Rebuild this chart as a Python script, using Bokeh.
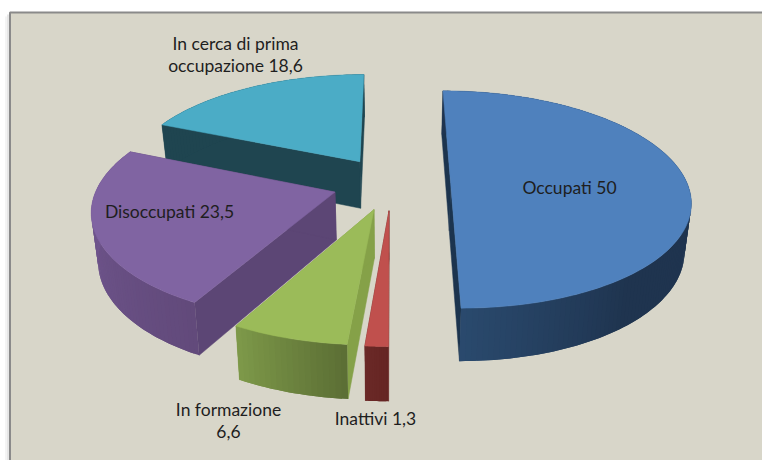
import numpy as np
from bokeh.core.properties import value
from bokeh.embed import file_html
from bokeh.models import ColumnDataSource, Range1d
from bokeh.plotting import figure
from bokeh.resources import INLINE

# Data
categories = ["Occupati", "Inattivi", "In formazione", "Disoccupati", "In cerca di prima occupazione"]
values = [50, 1.3, 6.6, 23.5, 18.6]
label_lines = [["Occupati 50"], ["Inattivi 1,3"], ["In formazione", "6,6"], ["Disoccupati 23,5"],
               ["In cerca di prima", "occupazione 18,6"]]

# Styles
top_colors = ["#4F81BD", "#C0504D", "#9BBB59", "#8064A2", "#4BACC6"]
radial_colors = ["#1C344E", "#6B2927", "#85A148", "#5C4675", "#1F4550"]
curve_from = ["#2A4A6E", "#6B2927", "#5C6F35", "#624A7B", "#1F4550"]
curve_to = ["#1F344F", "#652523", "#7F9B4A", "#765B96", "#1F4550"]
curve_span = [40, 5, 24, 85, 67]
curve_anchor_end = [True, True, False, False, True]
label_xy = [[(569, 187)], [(375, 418)], [(228, 409), (228, 431)], [(169, 211)], [(235, 43), (235, 65)]]

# Projection of the exploded pie
X0, Y0, A, B, K, EXPLODE, HEIGHT, SHRINK = 391.0, 182.7, 236.5, 106.2, 0.15, 0.25, 47.5, 0.977


def project(X, Z, bottom=False):
    s = 1.0 / (1.0 + K * Z)
    x = A * X * s
    y = -B * Z * s
    if bottom:
        return X0 + x * SHRINK, Y0 + y * SHRINK + HEIGHT * s
    return X0 + x, Y0 + y


def hexmix(a, b, f):
    ca = np.array([int(a[i:i + 2], 16) for i in (1, 3, 5)], float)
    cb = np.array([int(b[i:i + 2], 16) for i in (1, 3, 5)], float)
    c = ca + (cb - ca) * f
    return "#%02x%02x%02x" % tuple(int(round(v)) for v in c)


p = figure(width=762, height=460, x_range=Range1d(0, 762), y_range=Range1d(460, 0),
           output_backend="svg", toolbar_location=None, min_border=0,
           outline_line_color=None, background_fill_color="white", border_fill_color="white")
p.axis.visible = False
p.grid.visible = False

# Panel with a soft left shadow
p.line([5.5, 5.5], [460, 16], line_color="#F4F4F4", line_width=2)
p.line([7.5, 7.5], [460, 14], line_color="#E6E6E6", line_width=2)
p.quad(left=[9.5], right=[762], top=[12], bottom=[460], fill_color="#D8D6C9", line_color=None)
p.line([9.5, 9.5, 762], [460, 12, 12], line_color="#8A8A8A", line_width=2)

edges = np.concatenate([[0], np.cumsum(values)]) * 3.6
order = [4, 3, 2, 1, 0]
for i in order:
    t0, t1 = np.radians(edges[i]), np.radians(edges[i + 1])
    mid = (t0 + t1) / 2
    ex, ez = EXPLODE * np.sin(mid), EXPLODE * np.cos(mid)
    ts = np.linspace(t0, t1, max(int(values[i] * 3), 10) + 1)
    Xs, Zs = ex + np.sin(ts), ez + np.cos(ts)
    xt, yt = project(Xs, Zs)
    xb, yb = project(Xs, Zs, True)
    ax, ay = project(np.array([ex]), np.array([ez]))
    axb, ayb = project(np.array([ex]), np.array([ez]), True)

    # radial faces
    for j in (0, -1):
        p.patch([ax[0], xt[j], xb[j], axb[0]], [ay[0], yt[j], yb[j], ayb[0]],
                fill_color=radial_colors[i], line_color=radial_colors[i], line_width=0.5)

    # curved outer face, shaded in overlapping strips
    xs, ys, cols = [], [], []
    anchor = t1 if curve_anchor_end[i] else t0
    for k in range(len(ts) - 1):
        f = min(abs(np.degrees(ts[k] - anchor)) / curve_span[i], 1.0)
        e = min(k + 2, len(ts) - 1)
        xs.append(list(xt[k:e + 1]) + list(xb[k:e + 1][::-1]))
        ys.append(list(yt[k:e + 1]) + list(yb[k:e + 1][::-1]))
        cols.append(hexmix(curve_from[i], curve_to[i], f))
    src = ColumnDataSource(dict(xs=xs, ys=ys, c=cols))
    p.patches("xs", "ys", source=src, fill_color="c", line_color=None)

    # top face
    p.patch(np.concatenate([ax, xt]), np.concatenate([ay, yt]),
            fill_color=top_colors[i], line_color=top_colors[i], line_width=0.5)

# Labels
for lines, pos in zip(label_lines, label_xy):
    p.text([q[0] for q in pos], [q[1] for q in pos], text=lines, text_font=value("Lato"),
           text_font_size="17.5px", text_color="#1E1E1E", text_align="center", text_baseline="middle")

open("out.html", "w").write(file_html(p, INLINE))
